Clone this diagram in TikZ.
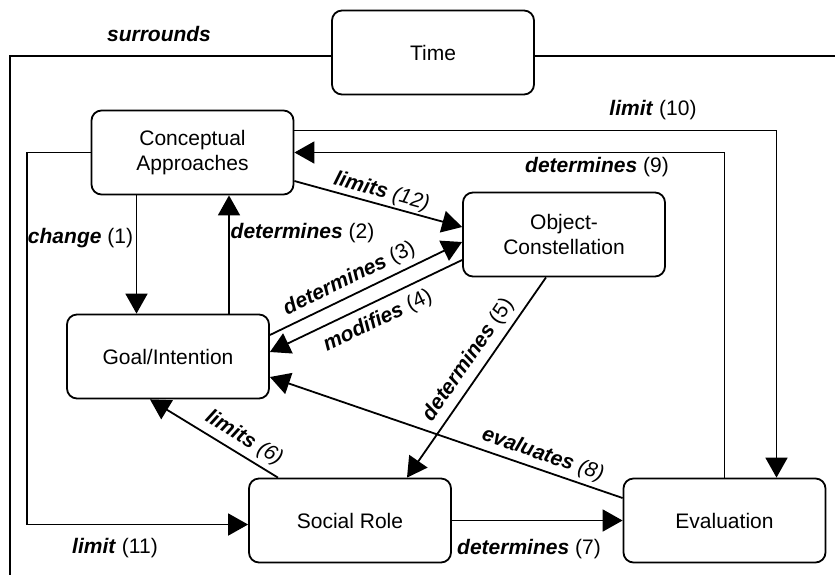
\documentclass[tikz,border=0pt]{standalone}
\usepackage{fontspec}
\setmainfont{Liberation Sans}
\usetikzlibrary{arrows.meta,calc}
\newcommand{\relab}[2]{\textbf{\textit{#1}} #2}

\begin{document}
\begin{tikzpicture}[x=0.5pt,y=-0.5pt,line width=0.9pt,
  every node/.style={font=\fontsize{10.5}{12.6}\selectfont,align=center},
  box/.style={draw,rounded corners=5pt,minimum width=101pt,minimum height=42pt,inner sep=2pt},
  arr/.style={-{Triangle[length=10pt,width=11pt]}},
  lab/.style={inner sep=2pt}]
\useasboundingbox (0,0) rectangle (835,575);
\node[box] (time) at (433,52.5) {Time};
\node[box] (conc) at (192.5,152.5) {Conceptual\\Approaches};
\node[box] (obj) at (564,234.5) {Object-\\Constellation};
\node[box] (goal) at (168,356.5) {Goal/Intention};
\node[box] (soc) at (350,520.5) {Social Role};
\node[box] (eval) at (724.5,520.5) {Evaluation};
% frame round everything
\coordinate (tl) at (10,56); \coordinate (bl) at (10,575); \coordinate (tr) at (835,56);
\draw (time.west |- tl) -- (tl) -- (bl); \draw (time.east |- tr) -- (tr);
\node (lsur) at (159,34) {\textbf{\textit{surrounds}}};
% relations
\draw[arr] ([xshift=-28pt]conc.south) -- ([xshift=-28pt]conc.south |- goal.north);
\draw[arr] ([xshift=30.5pt]goal.north) -- ([xshift=30.5pt]goal.north |- conc.south);
\draw[arr] ([yshift=10.75pt]goal.east) -- node[lab,sloped,above,pos=0.45,inner sep=2.6pt] (l3) {\relab{determines}{(3)}} ([yshift=-3.75pt]obj.west);
\draw[arr] ([yshift=-12.75pt]obj.west) -- node[lab,sloped,below,pos=0.48,inner sep=4pt] (l4) {\relab{modifies}{(4)}} ([yshift=2.25pt]goal.east);
\draw[arr] ([xshift=-9pt]obj.south) -- node[lab,sloped,above,pos=0.46,inner sep=3pt] (l5) {\relab{determines}{(5)}} ([xshift=28.5pt]soc.north);
\draw[arr] ([xshift=-36pt]soc.north) -- node[lab,sloped,above,pos=0.33,inner sep=2.5pt] (l6) {\relab{limits}{\textit{(6)}}} ([xshift=-9pt]goal.south);
\draw[arr] (soc.east) -- (eval.west);
\draw[arr] ([yshift=11.25pt]eval.west) -- node[lab,sloped,above,pos=0.24] (l8) {\relab{evaluates}{\textit{(8)}}} ([yshift=-10.25pt]goal.east);
\draw[arr] (eval.north) |- (conc.east);
\draw[arr] ([yshift=11pt]conc.east) -| ([xshift=26pt]eval.north);
\draw[arr] (conc.west) -- ++(-32pt,0) |- ([yshift=-2pt]soc.west);
\draw[arr] ([yshift=-14.25pt]conc.east) -- node[lab,sloped,above,inner sep=1pt] (l12) {\relab{limits}{\textit{(12)}}} ([yshift=3.75pt]obj.west);
\node (l1) at (80.5,238) {\relab{change}{(1)}};
\node (l2) at (302.5,233) {\relab{determines}{(2)}};
\node (l7) at (529,549) {\relab{determines}{(7)}};
\node (l9) at (597,167) {\relab{determines}{(9)}};
\node (l10) at (653,110) {\relab{limit}{(10)}};
\node (l11) at (115,548) {\relab{limit}{(11)}};
\end{tikzpicture}
\end{document}
